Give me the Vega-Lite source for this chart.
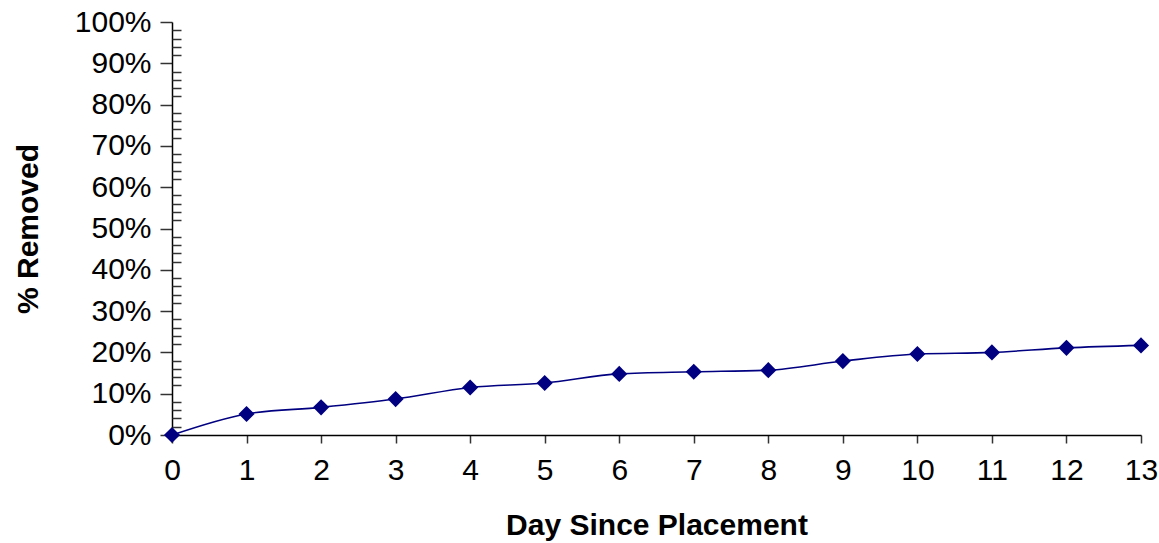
{
  "$schema": "https://vega.github.io/schema/vega-lite/v6.json",
  "width": 969,
  "height": 413,
  "autosize": {"type": "none"},
  "padding": {"left": 172, "top": 22, "right": 18, "bottom": 108},
  "background": "white",
  "config": {
    "view": {"stroke": null},
    "font": "Liberation Sans",
    "axis": {"labelFont": "Liberation Sans", "titleFont": "Liberation Sans", "grid": false, "domainColor": "#000000", "tickColor": "#333333", "labelColor": "#000000", "titleColor": "#000000"}
  },
  "data": {
    "values": [
      {"day": 0, "removed": 0.0},
      {"day": 1, "removed": 0.051},
      {"day": 2, "removed": 0.067},
      {"day": 3, "removed": 0.087},
      {"day": 4, "removed": 0.115},
      {"day": 5, "removed": 0.126},
      {"day": 6, "removed": 0.148},
      {"day": 7, "removed": 0.153},
      {"day": 8, "removed": 0.157},
      {"day": 9, "removed": 0.179},
      {"day": 10, "removed": 0.196},
      {"day": 11, "removed": 0.200},
      {"day": 12, "removed": 0.211},
      {"day": 13, "removed": 0.217}
    ]
  },
  "resolve": {"axis": {"y": "independent"}},
  "layer": [
    {
      "mark": {"type": "line", "color": "#000080", "strokeWidth": 1.6, "interpolate": "monotone"},
      "encoding": {
        "x": {"field": "day", "type": "quantitative", "scale": {"domain": [0, 13], "nice": false},
          "axis": {"title": "Day Since Placement", "values": [0,1,2,3,4,5,6,7,8,9,10,11,12,13], "format": "d", "labelFlush": false, "labelFontSize": 30, "labelPadding": 12, "tickSize": 8, "tickWidth": 1.5, "domainWidth": 1.5, "titleFontSize": 30, "titleFontWeight": "bold", "titlePadding": 25}},
        "y": {"field": "removed", "type": "quantitative", "scale": {"domain": [0, 1], "nice": false},
          "axis": {"title": "% Removed", "format": ".0%", "values": [0,0.1,0.2,0.3,0.4,0.5,0.6,0.7,0.8,0.9,1], "labelFlush": false, "labelFontSize": 30, "labelPadding": 9, "tickSize": 12, "tickWidth": 1.5, "domainWidth": 1.5, "titleFontSize": 30, "titleFontWeight": "bold", "titlePadding": 31}}
      }
    },
    {
      "mark": {"type": "point", "shape": "diamond", "filled": true, "color": "#000080", "size": 260, "opacity": 1},
      "encoding": {
        "x": {"field": "day", "type": "quantitative"},
        "y": {"field": "removed", "type": "quantitative",
          "axis": {"orient": "right", "offset": -969, "title": null, "labels": false, "domain": false, "tickSize": 9, "tickWidth": 1.5, "tickColor": "#333333",
            "values": [0.02,0.04,0.06,0.08,0.12,0.14,0.16,0.18,0.22,0.24,0.26,0.28,0.32,0.34,0.36,0.38,0.42,0.44,0.46,0.48,0.52,0.54,0.56,0.58,0.62,0.64,0.66,0.68,0.72,0.74,0.76,0.78,0.82,0.84,0.86,0.88,0.92,0.94,0.96,0.98]}}
      }
    }
  ]
}
